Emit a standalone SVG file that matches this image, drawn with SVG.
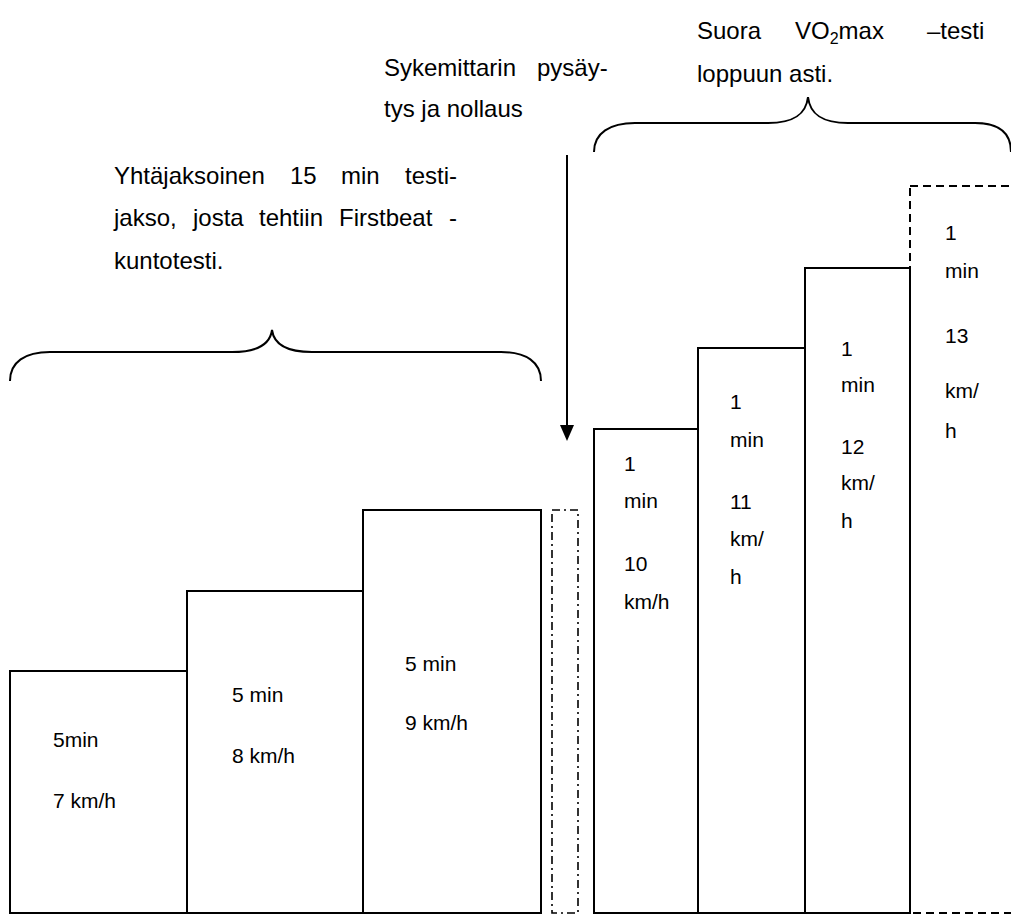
<svg xmlns="http://www.w3.org/2000/svg" width="1011" height="914" viewBox="0 0 1011 914">
<style>
.box{fill:#fff;stroke:#000;stroke-width:2}
.dash{fill:none;stroke:#000;stroke-width:2;stroke-dasharray:8 5}
.dashdot{fill:none;stroke:#000;stroke-width:1.6;stroke-dasharray:8 4 2 4}
.brace{fill:none;stroke:#000;stroke-width:2}
.h{font-family:"Liberation Sans",Arial,sans-serif;font-size:24px;fill:#000}
.t{font-family:"Liberation Sans",Arial,sans-serif;font-size:21px;fill:#000}
.sub{font-size:16px}
</style>
<rect width="1011" height="914" fill="#fff"/>

<g id="stage1">
<rect class="box" x="10" y="671" width="177" height="242"/>
<text class="t" x="53" y="747">5min</text>
<text class="t" x="53" y="808">7 km/h</text>
</g>
<g id="stage2">
<rect class="box" x="187" y="591" width="176" height="322"/>
<text class="t" x="232" y="702">5 min</text>
<text class="t" x="232" y="763">8 km/h</text>
</g>
<g id="stage3">
<rect class="box" x="363" y="510" width="178" height="403"/>
<text class="t" x="405" y="671">5 min</text>
<text class="t" x="405" y="730">9 km/h</text>
</g>
<g id="pause">
<rect class="dashdot" x="552" y="510" width="26" height="403"/>
</g>
<g id="stage4">
<rect class="box" x="594" y="429" width="104" height="484"/>
<text class="t" x="624" y="471">1</text>
<text class="t" x="624" y="508">min</text>
<text class="t" x="624" y="571">10</text>
<text class="t" x="624" y="609">km/h</text>
</g>
<g id="stage5">
<rect class="box" x="698" y="348" width="107" height="565"/>
<text class="t" x="730" y="409">1</text>
<text class="t" x="730" y="447">min</text>
<text class="t" x="730" y="509">11</text>
<text class="t" x="730" y="546">km/</text>
<text class="t" x="730" y="584">h</text>
</g>
<g id="stage6">
<rect class="box" x="805" y="268" width="105" height="645"/>
<text class="t" x="841" y="356">1</text>
<text class="t" x="841" y="392">min</text>
<text class="t" x="841" y="454">12</text>
<text class="t" x="841" y="490">km/</text>
<text class="t" x="841" y="528">h</text>
</g>
<g id="stage7">
<rect class="dash" x="910" y="186" width="110" height="727"/>
<text class="t" x="945" y="240">1</text>
<text class="t" x="945" y="278">min</text>
<text class="t" x="945" y="343">13</text>
<text class="t" x="945" y="398">km/</text>
<text class="t" x="945" y="438">h</text>
</g>

<g id="brace-left">
<path class="brace" d="M10,381 C10,362 25,352 50,352 L232,352 C255,352 270,345 272,330 C274,345 289,352 312,352 L501,352 C526,352 541,362 541,381"/>
</g>
<g id="brace-right">
<path class="brace" d="M594,152 C594,133 610,123 635,123 L768,123 C793,123 806,115 808,97 C810,115 823,123 848,123 L975,123 C1000,123 1011,133 1011,152"/>
</g>

<g id="label-firstbeat">
<text class="h" y="184"><tspan x="114">Yhtäjaksoinen</tspan><tspan x="290">15</tspan><tspan x="341">min</tspan><tspan x="405">testi-</tspan></text>
<text class="h" y="226"><tspan x="114">jakso,</tspan><tspan x="193">josta</tspan><tspan x="259">tehtiin</tspan><tspan x="339">Firstbeat</tspan><tspan x="449">-</tspan></text>
<text class="h" x="114" y="269">kuntotesti.</text>
</g>
<g id="label-reset">
<text class="h" y="76"><tspan x="384">Sykemittarin</tspan><tspan x="537">pysäy-</tspan></text>
<text class="h" x="384" y="117">tys ja nollaus</text>
</g>
<g id="label-vo2max">
<text class="h" y="39"><tspan x="795">VO</tspan><tspan class="sub" dy="5">2</tspan><tspan dy="-5">max</tspan></text>
<text class="h" y="39"><tspan x="697">Suora</tspan><tspan x="927">–testi</tspan></text>
<text class="h" x="697" y="82">loppuun asti.</text>
</g>

<g id="connectors">
<line x1="567" y1="155" x2="567" y2="427" stroke="#000" stroke-width="2"/>
<path d="M560,425 L574,425 L567,441 Z" fill="#000"/>
</g>
</svg>
